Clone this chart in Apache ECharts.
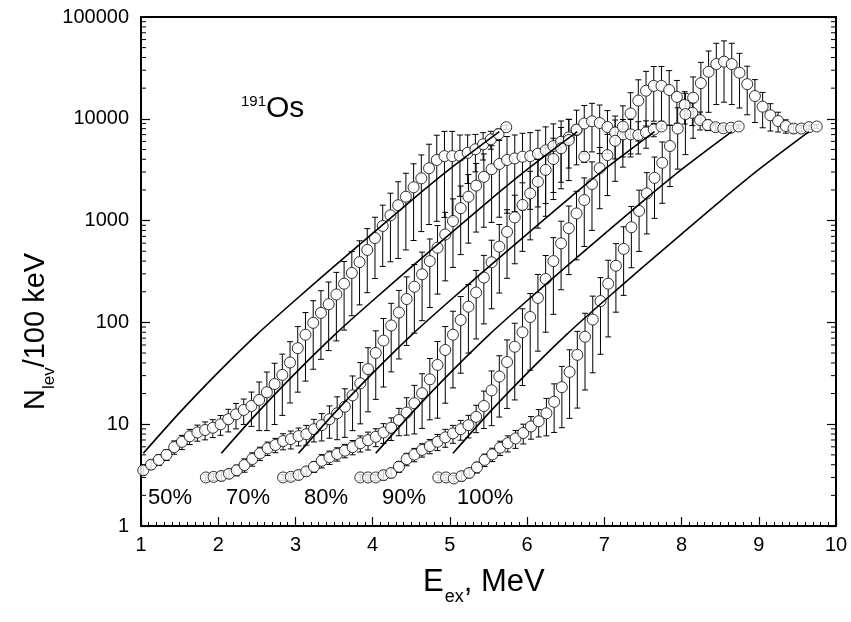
<!DOCTYPE html>
<html><head><meta charset="utf-8">
<script src="https://cdn.jsdelivr.net/npm/echarts/dist/echarts.min.js"></script>
<style>html,body{margin:0;padding:0;background:#fff}#c{width:851px;height:622px}</style>
</head><body><div id="c"></div>
<script>
// ---------- data ----------
const x50 = [1.03,1.13,1.23,1.33,1.43,1.53,1.63,1.73,1.83,1.93,2.03,2.13,2.23,2.33,2.43,2.53,2.63,2.73,2.83,2.93,3.03,3.13,3.23,3.33,3.43,3.53,3.63,3.73,3.83,3.93,4.03,4.13,4.23,4.33,4.43,4.53,4.63,4.73,4.83,4.93,5.03,5.13,5.23,5.33,5.43,5.53,5.63,5.73];
const y50 = [3.53,4.0,4.46,5.0,5.96,6.7,7.6,8.3,8.77,9.23,9.97,11.2,12.5,13.8,15.1,17.3,20.6,24.8,30.5,40.4,55.8,75.7,99,124,151,188,240,306,391,515,674,886,1126,1416,1717,2125,2600,3270,3940,4300,4300,4330,4630,5020,5620,6280,7070,8270];
const e50 = [0.1,0.1,0.12,0.12,0.15,0.16,0.17,0.18,0.2,0.2,0.22,0.25,0.28,0.28,0.37,0.5,0.58,0.6,0.6,0.6,0.63,0.65,0.65,0.65,0.65,0.65,0.65,0.62,0.62,0.62,0.6,0.6,0.65,0.7,0.7,0.7,0.7,0.72,0.75,0.75,0.75,0.6,0.5,0.4,0.3,0.2,0.12,0.05];

const x70 = [1.84,1.94,2.04,2.14,2.24,2.34,2.44,2.54,2.64,2.74,2.84,2.94,3.04,3.14,3.24,3.34,3.44,3.54,3.64,3.74,3.84,3.94,4.04,4.14,4.24,4.34,4.44,4.54,4.64,4.74,4.84,4.94,5.04,5.14,5.24,5.34,5.44,5.54,5.64,5.74,5.84,5.94,6.04,6.14,6.24,6.34,6.44,6.54,6.64,6.74];
const y70 = [3.0,3.04,3.1,3.26,3.53,3.97,4.55,5.17,5.8,6.25,6.83,7.14,7.64,7.98,8.93,9.78,11.2,12.8,14.85,19.2,25.2,34.8,50.1,66.2,93.3,125,169.6,224,297,400,542,731,991,1324,1717,2205,2690,3200,3600,3940,4080,4240,4300,4540,4900,5400,5950,6570,7740,4240];
const e70 = [0.07,0.08,0.1,0.1,0.12,0.15,0.15,0.15,0.15,0.16,0.18,0.2,0.2,0.22,0.25,0.3,0.35,0.45,0.5,0.55,0.6,0.62,0.65,0.65,0.65,0.65,0.65,0.65,0.65,0.65,0.65,0.65,0.65,0.65,0.65,0.65,0.68,0.7,0.7,0.7,0.7,0.7,0.7,0.7,0.7,0.65,0.6,0.5,0.05,0.12];

const x80 = [2.84,2.94,3.04,3.14,3.24,3.34,3.44,3.54,3.64,3.74,3.84,3.94,4.04,4.14,4.24,4.34,4.44,4.54,4.64,4.74,4.84,4.94,5.04,5.14,5.24,5.34,5.44,5.54,5.64,5.74,5.84,5.94,6.04,6.14,6.24,6.34,6.44,6.54,6.64,6.74,6.84,6.94,7.04,7.14,7.24,7.34,7.44,7.54,7.64,7.74];
const y80 = [3.0,3.04,3.17,3.44,3.82,4.37,4.73,5.1,5.5,5.96,6.5,6.97,7.52,8.3,9.23,11.0,13.0,16.05,20.2,27.6,38.2,53.6,75.7,105.7,142.7,196.5,276,389,555,775,1076,1425,1849,2410,3150,4025,5135,6180,7840,9000,9460,9100,8300,7340,7035,7035,6935,7340,7840,8400];
const e80 = [0.07,0.08,0.1,0.1,0.12,0.15,0.15,0.15,0.15,0.16,0.18,0.2,0.2,0.22,0.25,0.3,0.4,0.5,0.55,0.6,0.7,0.7,0.7,0.7,0.65,0.65,0.65,0.65,0.65,0.65,0.65,0.65,0.65,0.65,0.65,0.6,0.6,0.6,0.55,0.5,0.5,0.5,0.45,0.45,0.4,0.4,0.35,0.3,0.15,0.05];

const x90 = [3.84,3.94,4.04,4.14,4.24,4.34,4.44,4.54,4.64,4.74,4.84,4.94,5.04,5.14,5.24,5.34,5.44,5.54,5.64,5.74,5.84,5.94,6.04,6.14,6.24,6.34,6.44,6.54,6.64,6.74,6.84,6.94,7.04,7.14,7.24,7.34,7.44,7.54,7.64,7.74,7.84,7.94,8.04,8.14,8.24,8.34,8.44,8.54,8.64,8.74];
const y90 = [3.0,3.0,3.0,3.16,3.32,3.82,4.54,5.03,5.59,6.1,6.72,7.42,8.12,8.93,9.78,11.8,15.1,21.5,29.4,40.8,57.7,80,113,174,267,400,598,842,1176,1592,2288,3270,4400,6080,8380,11280,15100,18870,21050,21050,19180,16420,13670,11440,9715,8700,8270,8075,8170,8400];
const e90 = [0.07,0.07,0.07,0.1,0.1,0.12,0.14,0.15,0.15,0.16,0.18,0.2,0.2,0.22,0.25,0.3,0.4,0.55,0.6,0.65,0.7,0.7,0.7,0.7,0.7,0.7,0.65,0.65,0.65,0.65,0.65,0.6,0.6,0.6,0.6,0.6,0.6,0.55,0.55,0.55,0.55,0.45,0.35,0.25,0.2,0.12,0.08,0.06,0.05,0.04];

const x100 = [4.85,4.95,5.05,5.15,5.25,5.35,5.45,5.55,5.65,5.75,5.85,5.95,6.05,6.15,6.25,6.35,6.45,6.55,6.65,6.75,6.85,6.95,7.05,7.15,7.25,7.35,7.45,7.55,7.65,7.75,7.85,7.95,8.05,8.15,8.25,8.35,8.45,8.55,8.65,8.75,8.85,8.95,9.05,9.15,9.25,9.35,9.45,9.55,9.65,9.75];
const y100 = [3.0,3.0,2.93,3.09,3.32,3.77,4.46,5.05,5.87,6.51,7.24,8.2,9.5,10.7,12.8,16.6,23.1,32.6,48,72.3,106.6,162,240,360,527,861,1245,1849,2630,3700,5400,8020,11120,16100,22400,28960,34500,36400,34500,28350,21900,16730,13160,10830,9510,8500,8020,8020,8270,8400];
const e100 = [0.07,0.07,0.07,0.1,0.1,0.12,0.14,0.15,0.16,0.18,0.2,0.22,0.25,0.3,0.4,0.5,0.6,0.65,0.7,0.7,0.7,0.7,0.7,0.65,0.65,0.6,0.6,0.6,0.6,0.6,0.6,0.6,0.6,0.6,0.6,0.6,0.6,0.6,0.6,0.55,0.5,0.45,0.38,0.3,0.22,0.15,0.1,0.07,0.05,0.04];

// calculated curves
const lineY = [5.18,13.0,32.3,75.9,166,355,750,1574,3214,7470];
const lineX50 = [1.03,1.5,2.0,2.5,3.0,3.5,4.0,4.5,5.0,5.64];
const lineX70 = [2.04,2.51,3.01,3.51,4.01,4.51,5.01,5.51,6.01,6.65];
const lineX80 = [3.04,3.51,4.01,4.51,5.01,5.51,6.01,6.51,7.01,7.65];
const lineX90 = [4.04,4.51,5.01,5.51,6.01,6.51,7.01,7.51,8.01,8.65];
const lineX100 = [5.04,5.51,6.01,6.51,7.01,7.51,8.01,8.51,9.01,9.65];

const seriesNames = ['50%','70%','80%','90%','100%'];
const xTicks = [1,2,3,4,5,6,7,8,9,10];
const yTickLabels = ['1','10','100','1000','10000','100000'];
const yMinorTicks = [2,3,4,5,6,7,8,9,20,30,40,50,60,70,80,90,200,300,400,500,600,700,800,900,2000,3000,4000,5000,6000,7000,8000,9000,20000,30000,40000,50000,60000,70000,80000,90000];

// ---------- chart ----------
const FONT = '"Liberation Sans", Arial, Helvetica, sans-serif';
const SYM = 11, R = 5.5;
const chart = echarts.init(document.getElementById('c'), null, {renderer: 'canvas'});

function errRender(params, api) {
  const x = api.value(0), y = api.value(1), s = api.value(2);
  const c = api.coord([x, y]);
  const yt = api.coord([x, y + s])[1];
  const yb = api.coord([x, Math.max(y - s, 0.3)])[1];
  const cx = c[0], cy = c[1], hw = 3;
  const st = {stroke: '#000', lineWidth: 1, fill: null};
  const ch = [];
  const seg = (x1, y1, x2, y2) => ch.push({type: 'line', shape: {x1, y1, x2, y2}, style: st});
  const inT = cy - yt <= R, inB = yb - cy <= R;
  if (inT && inB) { seg(cx, yt, cx, yb); }
  else {
    if (!inT) seg(cx, yt, cx, cy - R);
    if (!inB) seg(cx, cy + R, cx, yb);
  }
  seg(cx - hw, yt, cx + hw, yt);
  seg(cx - hw, yb, cx + hw, yb);
  return {type: 'group', children: ch};
}

const sets = [[x50, y50, e50], [x70, y70, e70], [x80, y80, e80], [x90, y90, e90], [x100, y100, e100]];
const lines = [lineX50, lineX70, lineX80, lineX90, lineX100];
const series = [];
sets.forEach((s, k) => {
  const [xs, ys, es] = s;
  series.push({
    type: 'scatter', name: seriesNames[k], data: xs.map((x, i) => [x, ys[i]]),
    symbol: 'circle', symbolSize: SYM, silent: true, z: 2,
    itemStyle: {color: '#fff', borderColor: '#000', borderWidth: 1}
  });
  series.push({
    type: 'custom', data: xs.map((x, i) => [x, ys[i], ys[i] * es[i]]),
    encode: {x: 0, y: 1}, renderItem: errRender, silent: true, z: 2, clip: true
  });
});
lines.forEach((lx) => {
  series.push({
    type: 'line', data: lx.map((x, i) => [x, lineY[i]]), showSymbol: false, smooth: 0.3,
    lineStyle: {color: '#000', width: 1.6}, silent: true, z: 3
  });
});
series.push({
  type: 'custom', data: yMinorTicks.map(v => [1, v]), encode: {x: 0, y: 1}, silent: true, z: 5, clip: false,
  renderItem: (p, api) => {
    const cs = p.coordSys;
    const y = api.coord([1, api.value(1)])[1];
    const st = {stroke: '#000', lineWidth: 1};
    return {type: 'group', children: [
      {type: 'line', shape: {x1: cs.x, y1: y, x2: cs.x + 5, y2: y}, style: st},
      {type: 'line', shape: {x1: cs.x + cs.width, y1: y, x2: cs.x + cs.width - 5, y2: y}, style: st}
    ]};
  }
});

// measure text for titles
const mctx = document.createElement('canvas').getContext('2d');
function tw(t, size) { mctx.font = size + 'px ' + FONT; return mctx.measureText(t).width; }

const MAIN = 29, SUB = 17, XMAIN = 31, XSUB = 18;
const yN = 'N', ySub = 'lev', yRest = '/100 keV';
const xE = 'E', xSub = 'ex', xRest = ', MeV';
const t = (x, y, text, size, extra) => Object.assign({type: 'text', x, y, silent: true,
  style: {text, font: size + 'px ' + FONT, fill: '#000', align: 'left', verticalAlign: 'middle'}}, extra || {});

const graphics = [];
// y title (rotated)
graphics.push({type: 'group', x: 36, y: 410, rotation: Math.PI / 2, children: [
  t(0, 0, yN, MAIN),
  t(tw(yN, MAIN), 13, ySub, SUB),
  t(tw(yN, MAIN) + tw(ySub, SUB), 0, yRest, MAIN)
]});
// x title
const xt0 = 423, xty = 582;
graphics.push(t(xt0, xty, xE, XMAIN));
graphics.push(t(xt0 + tw(xE, XMAIN) + 1, xty + 15, xSub, XSUB));
graphics.push(t(xt0 + tw(xE, XMAIN) + tw(xSub, XSUB) + 1, xty, xRest, XMAIN));
// nucleus label
graphics.push(t(241, 102, '191', 15));
graphics.push(t(241 + tw('191', 15), 109, 'Os', 30));
// percentage labels
const pctX = [148, 226, 304, 382, 457];
seriesNames.forEach((n, i) => graphics.push(t(pctX[i], 498, n, 22)));

chart.setOption({
  animation: false,
  backgroundColor: '#fff',
  grid: {left: 141, right: 15, top: 17, bottom: 96, containLabel: false},
  xAxis: [{
    type: 'value', min: 1, max: 10, interval: 1,
    axisLine: {show: true, onZero: false, lineStyle: {color: '#000', width: 2}},
    axisTick: {show: true, inside: true, length: 9, lineStyle: {color: '#000', width: 1.2}},
    minorTick: {show: true, splitNumber: 10, length: 4, lineStyle: {color: '#000', width: 1}},
    axisLabel: {color: '#000', fontSize: 20, fontFamily: FONT, margin: 9,
      formatter: v => String(xTicks[Math.round(v) - 1])},
    splitLine: {show: false}
  }, {
    type: 'value', position: 'top', min: 1, max: 10, interval: 1,
    axisLine: {show: true, onZero: false, lineStyle: {color: '#000', width: 2}},
    axisTick: {show: false}, axisLabel: {show: false}, splitLine: {show: false}
  }],
  yAxis: [{
    type: 'log', logBase: 10, min: 1, max: 100000,
    axisLine: {show: true, onZero: false, lineStyle: {color: '#000', width: 2}},
    axisTick: {show: true, inside: true, length: 9, lineStyle: {color: '#000', width: 1.2}},
    axisLabel: {color: '#000', fontSize: 20, fontFamily: FONT, margin: 12,
      formatter: v => yTickLabels[Math.round(Math.log10(v))]},
    splitLine: {show: false}
  }, {
    type: 'log', logBase: 10, min: 1, max: 100000, position: 'right',
    axisLine: {show: true, onZero: false, lineStyle: {color: '#000', width: 2}},
    axisTick: {show: true, inside: true, length: 9, lineStyle: {color: '#000', width: 1.2}},
    axisLabel: {show: false}, splitLine: {show: false}
  }],
  graphic: graphics,
  series: series
});
</script></body></html>
